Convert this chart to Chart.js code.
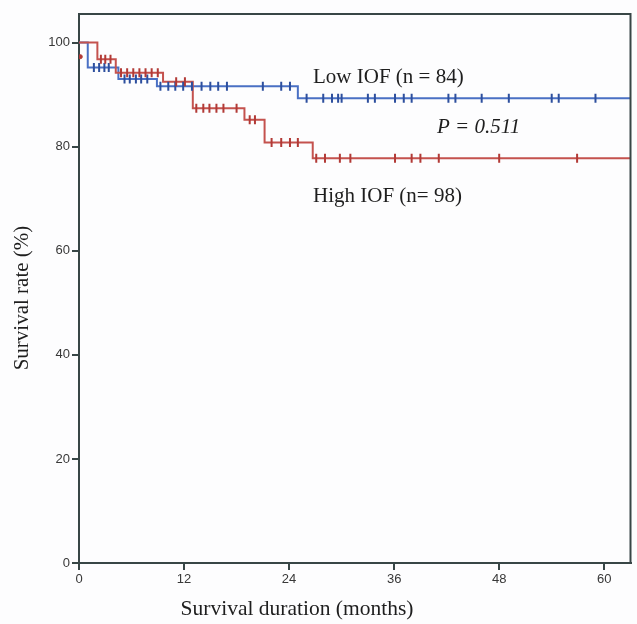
<!DOCTYPE html>
<html><head><meta charset="utf-8">
<script src="https://cdn.jsdelivr.net/npm/chart.js@4/dist/chart.umd.min.js"></script>
<style>html,body{margin:0;padding:0;background:#fdfdfe}#wrap{width:637px;height:624px;position:relative}</style>
</head><body><div id="wrap"><canvas id="c"></canvas></div>
<script>
// ---- data ----
const xTickValues = [0, 12, 24, 36, 48, 60];
const yTickValues = [0, 20, 40, 60, 80, 100];

// Low IOF (n = 84): step times (months) and survival (%)
const lowTimes = [0, 1.0, 4.5, 8.9, 25.0, 63];
const lowSurv  = [100, 95.2, 93.0, 91.6, 89.3, 89.3];
const lowCensorTimes = [1.7, 2.3, 2.9, 3.4, 5.2, 5.8, 6.5, 7.1, 7.8,
  9.3, 10.2, 11.0, 11.9, 12.9, 14.0, 15.0, 15.9, 16.9, 21.0, 23.1, 24.1,
  26.0, 27.9, 28.9, 29.6, 30.0, 33.0, 33.8, 36.1, 37.1, 38.0, 42.2, 43.0, 46.0, 49.1, 54.0, 54.8, 59.0];

// High IOF (n = 98)
const highTimes = [0, 2.1, 4.2, 9.6, 13.0, 18.9, 21.2, 26.7, 63];
const highSurv  = [100, 96.8, 94.2, 92.5, 87.4, 85.2, 80.8, 77.8, 77.8];
const highCensorTimes = [2.5, 3.0, 3.6, 4.8, 5.5, 6.2, 6.9, 7.6, 8.3, 9.0,
  11.1, 12.1, 13.4, 14.2, 14.9, 15.7, 16.5, 18.0, 19.5, 20.1,
  22.0, 23.1, 24.1, 25.0, 27.1, 28.1, 29.8, 31.0, 36.1, 38.0, 39.0, 41.1, 48.0, 56.9];
const highStartMark = [{x: 0.15, y: 97.3}];

const labels = {
  low: 'Low IOF (n = 84)',
  high: 'High IOF (n= 98)',
  p: 'P = 0.511',
  xTitle: 'Survival duration (months)',
  yTitle: 'Survival rate (%)'
};

// ---- build datasets ----
function pts(ts, ss) { return ts.map((t, i) => ({x: t, y: ss[i]})); }
function levelAt(ts, ss, t) { let v = ss[0]; for (let i = 0; i < ts.length; i++) { if (ts[i] <= t) v = ss[i]; } return v; }
function censorPts(cts, ts, ss) { return cts.map(t => ({x: t, y: levelAt(ts, ss, t)})); }

const BLUE = '#4a70c4', BLUE_D = '#2d4f9e';
const RED = '#c4524e', RED_D = '#b23a36';
const AXIS = '#384646';
const SERIF = '"Liberation Serif", "Times New Roman", serif';

const framePlugin = {
  id: 'frame',
  afterDatasetsDraw(chart) {
    const {ctx, chartArea: a} = chart;
    ctx.save();
    ctx.strokeStyle = AXIS; ctx.lineWidth = 2;
    ctx.beginPath();
    ctx.moveTo(a.left, a.top); ctx.lineTo(a.right, a.top); ctx.lineTo(a.right, a.bottom);
    ctx.stroke();
    ctx.fillStyle = '#1e1e1e';
    ctx.font = '21px ' + SERIF;
    ctx.textBaseline = 'middle'; ctx.textAlign = 'left';
    ctx.fillText(labels.low, 313, 77);
    ctx.fillText(labels.high, 313, 196);
    ctx.font = 'italic 21px ' + SERIF;
    ctx.fillText(labels.p, 437, 127);
    ctx.font = '21.5px ' + SERIF;
    ctx.textAlign = 'center';
    ctx.fillText(labels.xTitle, 297, 609);
    ctx.font = '21px ' + SERIF;
    ctx.translate(22, 298); ctx.rotate(-Math.PI / 2);
    ctx.fillText(labels.yTitle, 0, 0);
    ctx.restore();
  }
};

const tickFont = {family: '"Liberation Sans", Arial, sans-serif', size: 13};

new Chart(document.getElementById('c'), {
  type: 'line',
  data: {
    datasets: [
      {data: pts(lowTimes, lowSurv), borderColor: BLUE, borderWidth: 2, stepped: true, pointRadius: 0, fill: false, order: 3},
      {data: pts(highTimes, highSurv), borderColor: RED, borderWidth: 2, stepped: true, pointRadius: 0, fill: false, order: 2},
      {data: censorPts(lowCensorTimes, lowTimes, lowSurv), showLine: false, pointStyle: 'line', rotation: 90, pointRadius: 4.5, borderColor: BLUE_D, backgroundColor: BLUE_D, pointBorderWidth: 2, order: 1},
      {data: censorPts(highCensorTimes, highTimes, highSurv), showLine: false, pointStyle: 'line', rotation: 90, pointRadius: 4.5, borderColor: RED_D, backgroundColor: RED_D, pointBorderWidth: 2, order: 0},
      {data: highStartMark, showLine: false, pointStyle: 'circle', pointRadius: 2, borderColor: RED_D, backgroundColor: RED_D, order: 0}
    ]
  },
  options: {
    responsive: true, maintainAspectRatio: false, animation: false,
    layout: {padding: {top: 14, right: 6, left: 0, bottom: 0}},
    plugins: {legend: {display: false}, tooltip: {enabled: false}},
    scales: {
      x: {
        type: 'linear', min: 0, max: 63,
        afterBuildTicks: s => { s.ticks = xTickValues.map(v => ({value: v})); },
        afterFit: s => { s.height = 61; },
        ticks: {font: tickFont, color: '#383838', padding: 2, maxRotation: 0, autoSkip: false},
        grid: {drawOnChartArea: false, drawTicks: true, tickLength: 7, color: AXIS, lineWidth: 2},
        border: {display: true, color: AXIS, width: 2}
      },
      y: {
        type: 'linear', min: 0, max: 105.5,
        afterBuildTicks: s => { s.ticks = yTickValues.map(v => ({value: v})); },
        afterFit: s => { s.width = 79; },
        ticks: {font: tickFont, color: '#383838', padding: 2, autoSkip: false},
        grid: {drawOnChartArea: false, drawTicks: true, tickLength: 7, color: AXIS, lineWidth: 2},
        border: {display: true, color: AXIS, width: 2}
      }
    }
  },
  plugins: [framePlugin]
});
</script>
</body></html>
